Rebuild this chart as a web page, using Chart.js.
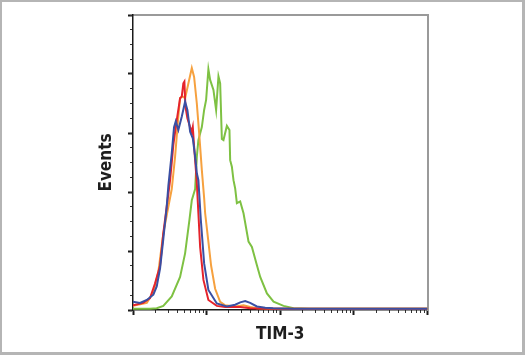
<!DOCTYPE html>
<html>
<head>
<meta charset="utf-8">
<script src="https://cdn.jsdelivr.net/npm/chart.js@4.4.1/dist/chart.umd.min.js"></script>
<style>
  html, body { margin: 0; padding: 0; background: #ffffff; }
  #frame {
    box-sizing: border-box;
    width: 525px; height: 355px;
    border-style: solid; border-color: #b5b5b5;
    border-width: 2px 3px 3px 2px;
    background: #ffffff;
  }
  canvas { display: block; }
</style>
</head>
<body>
<div id="frame"><canvas id="c" width="520" height="350"></canvas></div>
<script>
// ---- axis definitions ----
const xDecades = [1, 10, 100, 1000, 10000];
const xMinorMultipliers = [2, 3, 4, 5, 6, 7, 8, 9];
const xLabel = "TIM-3";
const yLabel = "Events";

// ---- series (fluorescence intensity vs events) ----
const blueX  = [1, 1.245, 1.54, 1.89, 2.1, 2.33, 2.58, 2.87, 3.02, 3.36, 3.61, 3.81, 4.13, 4.6, 5.1, 5.48, 5.97, 6.49, 6.98, 7.36, 7.73, 8.34, 9.25, 10.57, 13.76, 18.84, 24.4, 28.6, 33.4, 39, 48.2, 62.5, 80, 150, 10000];
const blueY  = [0.14, 0.12, 0.17, 0.26, 0.4, 0.7, 1.2, 1.75, 2.1, 2.66, 3.1, 3.2, 3.05, 3.28, 3.53, 3.39, 3.02, 2.91, 2.6, 2.32, 2.2, 1.53, 0.79, 0.34, 0.11, 0.06, 0.09, 0.13, 0.15, 0.12, 0.06, 0.04, 0.03, 0.02, 0.02];

const redX   = [1, 1.38, 1.7, 1.99, 2.33, 2.58, 2.87, 3.19, 3.36, 3.53, 3.93, 4.36, 4.6, 4.83, 4.99, 5.15, 5.48, 5.97, 6.29, 6.49, 6.76, 7.2, 7.36, 7.73, 8.16, 9.05, 10.57, 13.76, 17.85, 28.57, 39.06, 80, 10000];
const redY   = [0.08, 0.12, 0.2, 0.45, 0.75, 1.3, 1.75, 2.2, 2.5, 2.8, 3.22, 3.59, 3.62, 3.84, 3.87, 3.45, 3.25, 3.1, 3.02, 3.1, 2.77, 2.32, 2.15, 1.64, 1.07, 0.51, 0.17, 0.07, 0.05, 0.05, 0.03, 0.02, 0.02];

const orangeX = [1, 1.54, 1.89, 2.21, 2.58, 3.02, 3.36, 3.73, 4.13, 4.36, 4.74, 5.1, 5.65, 6.29, 6.76, 7.36, 7.98, 8.61, 9.25, 9.55, 10.47, 11.51, 13.05, 15.27, 17.85, 24.4, 31.7, 39, 48, 80, 10000];
const orangeY = [0.07, 0.12, 0.3, 0.65, 1.3, 1.75, 2.05, 2.6, 3.28, 3.59, 3.62, 3.59, 3.84, 4.1, 3.95, 3.5, 2.94, 2.37, 1.9, 1.64, 1.2, 0.75, 0.36, 0.14, 0.08, 0.06, 0.08, 0.05, 0.03, 0.02, 0.02];

const greenX = [1, 1.7, 2.1, 2.58, 3.36, 4.36, 5.1, 5.83, 6.29, 6.98, 7.36, 7.73, 8.61, 9.25, 9.84, 10.57, 11.16, 12.38, 13.46, 14.48, 15.27, 16.1, 16.94, 18.84, 20.42, 20.88, 22.02, 23.17, 24.42, 25.75, 28.57, 31.7, 37.07, 41.2, 48.2, 53.44, 65.93, 81.1, 110.9, 151.7, 250, 10000];
const greenY = [0.02, 0.02, 0.03, 0.07, 0.23, 0.56, 0.96, 1.52, 1.86, 2.05, 2.6, 2.88, 3.1, 3.39, 3.56, 4.08, 3.9, 3.73, 3.39, 3.96, 3.84, 2.9, 2.88, 3.12, 3.05, 2.54, 2.43, 2.2, 2.06, 1.81, 1.84, 1.64, 1.16, 1.07, 0.76, 0.56, 0.28, 0.14, 0.07, 0.03, 0.02, 0.02];

const yMajorStep = 1;
const yMinorStep = 0.25;
const yMax = 5;

function pts(xs, ys) { return xs.map((x, i) => ({ x: x, y: ys[i] })); }

const minorTicks = [];
for (let d = 0; d < xDecades.length - 1; d++) {
  for (const m of xMinorMultipliers) minorTicks.push(xDecades[d] * m);
}

const labelFont = { family: "'Liberation Sans Narrow', 'Arial Narrow', 'DejaVu Sans Condensed', sans-serif", size: 17, weight: 'bold', lineHeight: 1 };

const lineDs = (label, data, color) => ({
  label, data, borderColor: color, backgroundColor: color,
  borderWidth: 2, pointRadius: 0, tension: 0, fill: false
});

new Chart(document.getElementById('c'), {
  type: 'line',
  data: {
    datasets: [
      lineDs('blue', pts(blueX, blueY), '#3a4fa3'),
      lineDs('red', pts(redX, redY), '#e5232b'),
      lineDs('orange', pts(orangeX, orangeY), '#f6a13f'),
      lineDs('green', pts(greenX, greenY), '#7ec143')
    ]
  },
  options: {
    responsive: false,
    animation: false,
    devicePixelRatio: 1,
    layout: { padding: { left: 80, right: 94.5, top: 13, bottom: 0 } },
    plugins: { legend: { display: false }, tooltip: { enabled: false } },
    scales: {
      x: {
        type: 'logarithmic', axis: 'x', position: 'bottom',
        min: xDecades[0], max: xDecades[xDecades.length - 1],
        afterBuildTicks: (s) => { s.ticks = xDecades.map(v => ({ value: v })); },
        ticks: { display: false },
        grid: { drawOnChartArea: false, drawTicks: true, tickLength: 5, tickWidth: 2, tickColor: '#1a1a1a' },
        border: { display: true, color: '#1a1a1a', width: 1.5 },
        title: { display: true, text: xLabel, color: '#1e1e1e', font: labelFont, padding: { top: 11, bottom: 9 } }
      },
      x2: {
        type: 'logarithmic', axis: 'x', position: { y: 0 },
        min: xDecades[0], max: xDecades[xDecades.length - 1],
        afterBuildTicks: (s) => { s.ticks = minorTicks.map(v => ({ value: v })); },
        ticks: { display: false },
        grid: { drawOnChartArea: false, drawTicks: true, tickLength: 3, tickWidth: 1, tickColor: '#333333' },
        border: { display: false }
      },
      xTop: {
        type: 'linear', axis: 'x', position: { y: yMax },
        min: 0, max: 1,
        ticks: { display: false },
        grid: { drawOnChartArea: false, drawTicks: false },
        border: { display: true, color: '#9a9a9a', width: 2 }
      },
      y: {
        type: 'linear', axis: 'y', position: 'left',
        min: 0, max: yMax,
        ticks: { display: false, stepSize: yMajorStep },
        grid: { drawOnChartArea: false, drawTicks: true, tickLength: 5, tickWidth: 2, tickColor: '#1a1a1a' },
        border: { display: true, color: '#1a1a1a', width: 1.5 },
        title: { display: true, text: yLabel, color: '#1e1e1e', font: labelFont, padding: { top: 16.5, bottom: 12.5 } }
      },
      y2: {
        type: 'linear', axis: 'y', position: { x: xDecades[0] },
        min: 0, max: yMax,
        ticks: { display: false, stepSize: yMinorStep },
        grid: { drawOnChartArea: false, drawTicks: true, tickLength: 3, tickWidth: 1, tickColor: '#333333' },
        border: { display: false }
      },
      yRight: {
        type: 'linear', axis: 'y', position: { x: xDecades[xDecades.length - 1] },
        min: 0, max: 1,
        ticks: { display: false },
        grid: { drawOnChartArea: false, drawTicks: false },
        border: { display: true, color: '#9a9a9a', width: 2 }
      }
    }
  }
});
</script>
</body>
</html>
